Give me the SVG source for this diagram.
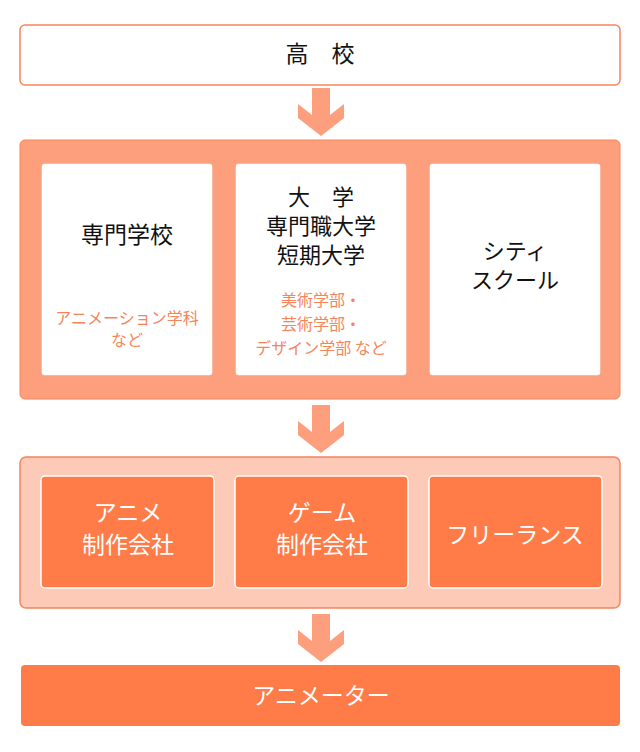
<svg xmlns="http://www.w3.org/2000/svg" width="640" height="752" viewBox="0 0 640 752">
<style>
text{font-family:"Noto Sans CJK JP","Noto Sans",sans-serif;text-anchor:middle}
.k{font-size:23px;fill:#111}
.k2{font-size:22px;fill:#111}
.s{font-size:16px;fill:#F5845A}
.w{font-size:23px;fill:#fff}
.arr{fill:#FD9E7C}
.wb{fill:#fff;stroke:#F7A383;stroke-width:1.5}
.ob{fill:#FF7C48;stroke:#fff;stroke-width:1.5}
</style>
<rect width="640" height="752" fill="#fff"/>
<g id="connectors">
<path class="arr" d="M312,88H330V115L344,104V118L321,136L298,118V104L312,115Z"/>
<path class="arr" d="M312,405H330V432L344,421V435L321,453L298,435V421L312,432Z"/>
<path class="arr" d="M312,614H330V641L344,630V644L321,662L298,644V630L312,641Z"/>
</g>
<g id="n-koukou">
<rect x="20" y="25" width="600" height="60" rx="5" fill="#fff" stroke="#F7845C" stroke-width="1.5"/>
<text class="k" x="320" y="62">高　校</text>
</g>
<g id="g-schools">
<rect x="20" y="140" width="600" height="259" rx="5" fill="#FD9E7C" stroke="#F7845C" stroke-width="1"/>
</g>
<g id="n-senmon">
<rect class="wb" x="41" y="163" width="172" height="213" rx="4"/>
<text class="k" x="127" y="243">専門学校</text>
<text class="s" x="127" y="324">アニメーション学科</text>
<text class="s" x="127" y="346">など</text>
</g>
<g id="n-daigaku">
<rect class="wb" x="235" y="163" width="172" height="213" rx="4"/>
<text class="k2" x="321" y="205">大　学</text>
<text class="k2" x="321" y="234">専門職大学</text>
<text class="k2" x="321" y="263">短期大学</text>
<text class="s" x="321" y="306">美術学部・</text>
<text class="s" x="321" y="330">芸術学部・</text>
<text class="s" x="321" y="354">デザイン学部 など</text>
</g>
<g id="n-city">
<rect class="wb" x="429" y="163" width="172" height="213" rx="4"/>
<text class="k2" x="515" y="259">シティ</text>
<text class="k2" x="515" y="288">スクール</text>
</g>
<g id="g-companies">
<rect x="20" y="457" width="600" height="151" rx="6" fill="#FCCAB6" stroke="#F48460" stroke-width="1.5"/>
</g>
<g id="n-anime">
<rect class="ob" x="41" y="476" width="173" height="112" rx="4"/>
<text class="w" x="128" y="521">アニメ</text>
<text class="w" x="128" y="553">制作会社</text>
</g>
<g id="n-game">
<rect class="ob" x="235" y="476" width="173" height="112" rx="4"/>
<text class="w" x="322" y="521">ゲーム</text>
<text class="w" x="322" y="553">制作会社</text>
</g>
<g id="n-free">
<rect class="ob" x="429" y="476" width="173" height="112" rx="4"/>
<text class="w" x="515" y="543">フリーランス</text>
</g>
<g id="n-animator">
<rect x="21" y="665" width="599" height="61" rx="4" fill="#FF7B48"/>
<text class="w" x="321" y="704">アニメーター</text>
</g>
</svg>
